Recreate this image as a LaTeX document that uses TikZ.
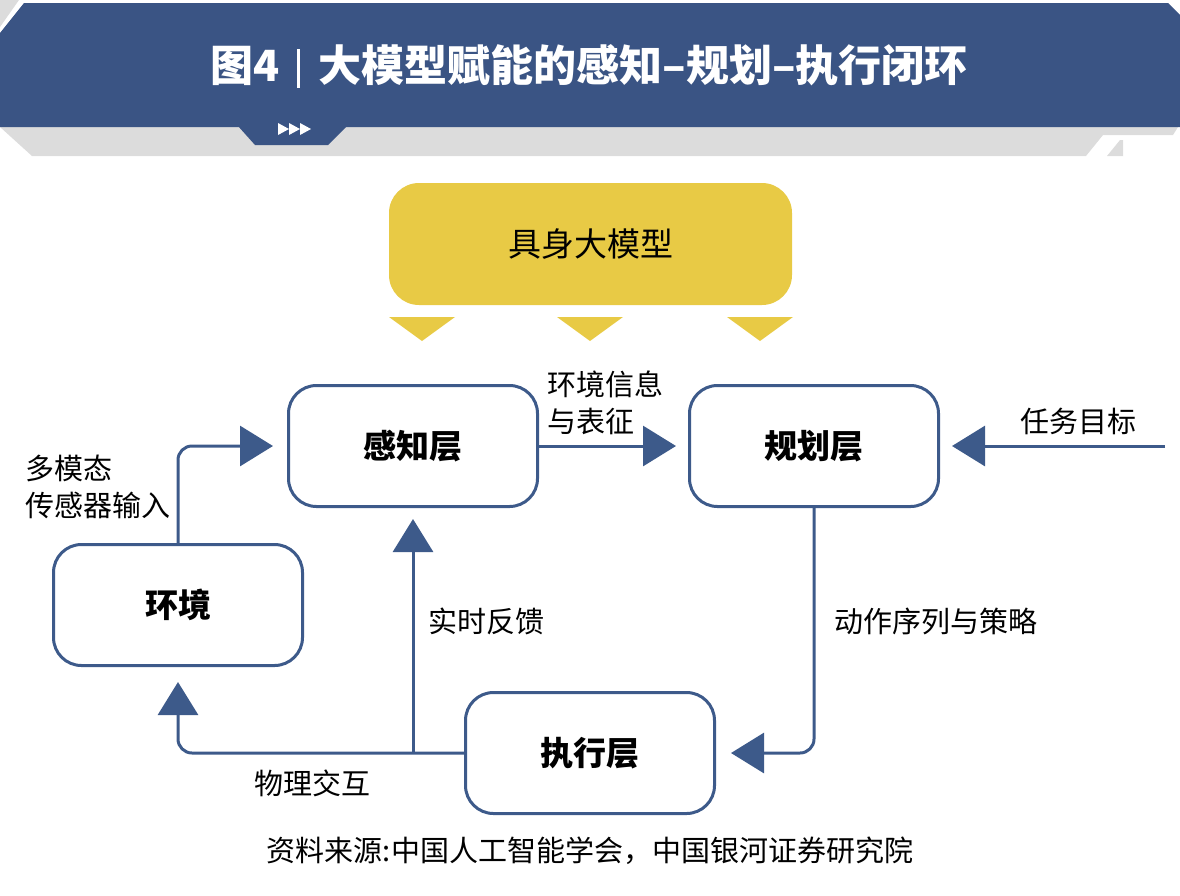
\documentclass[tikz,border=0pt]{standalone}
\usepackage{fontspec}
\setmainfont{Noto Sans CJK SC}
\usetikzlibrary{arrows.meta}
\definecolor{hdrblue}{HTML}{3A5484}
\definecolor{lnblue}{HTML}{3D5A8A}
\definecolor{ylw}{HTML}{E8CA45}
\definecolor{hdrgray}{HTML}{DCDCDC}
\tikzset{
  layer/.style={draw=lnblue, line width=3pt, rounded corners=28pt, fill=white,
    minimum width=249pt, minimum height=121pt, inner sep=0pt,
    font=\fontsize{33}{38}\selectfont\bfseries},
  conn/.style={draw=lnblue, line width=3pt, rounded corners=14pt,
    -{Triangle[length=33pt,width=40pt]}},
  lbl/.style={inner sep=0pt, anchor=west, align=left,
    font=\fontsize{29}{37}\selectfont},
}
\begin{document}
\begin{tikzpicture}[x=1pt,y=-1pt]
\useasboundingbox (0,0) rectangle (1180,895);
% header
\fill[hdrgray] (0,0) -- (19,0) -- (0,27) -- cycle;
\fill[hdrgray] (0,127) -- (1178,127) -- (1173,135) -- (1103,135) -- (1086,156) -- (32,156) -- cycle;
\fill[hdrgray] (1107,156) -- (1123,156) -- (1123,140) -- (1120,140) -- cycle;
\fill[hdrblue] (24,3) -- (1168,3) -- (1180,15) -- (1180,127) -- (0,127) -- (0,33) -- cycle;
\fill[hdrblue] (238,126) -- (347,126) -- (328,145) -- (255,145) -- cycle;
\fill[white] (278,123) -- (289,129) -- (278,135) -- cycle;
\fill[white] (289,123) -- (300,129) -- (289,135) -- cycle;
\fill[white] (300,123) -- (311,129) -- (300,135) -- cycle;
\node[text=white, inner sep=0pt, font=\fontsize{43}{50}\selectfont\bfseries] (title) at (589,66)
  {图4\hspace{18pt}\rule[-6pt]{3pt}{39pt}\hspace{18pt}大模型赋能的感知–规划–执行闭环};
% model box
\node[fill=ylw, rounded corners=30pt, minimum width=403pt, minimum height=122pt, inner sep=0pt,
  font=\fontsize{33}{40}\selectfont] (model) at (590.5,244) {具身大模型};
\fill[ylw] (389,317) -- (455,317) -- (422,341) -- cycle;
\fill[ylw] (557,317) -- (623,317) -- (590,341) -- cycle;
\fill[ylw] (727,317) -- (793,317) -- (760,341) -- cycle;
% layers
\node[layer] (perc) at (413,446) {感知层};
\node[layer] (plan) at (814,446) {规划层};
\node[layer] (env) at (178,605) {环境};
\node[layer] (exec) at (590,753) {执行层};
\coordinate (goal) at (1165,446);
\coordinate (fb) at (perc.south |- exec.west);
% connectors
\draw[conn] (env.north) |- ([xshift=-14pt]perc.west);
\draw[conn, shorten >=12pt] (perc.east) -- (plan.west);
\draw[conn, shorten >=12pt] (goal) -- (plan.east);
\draw[conn] (plan.south) |- ([xshift=15pt]exec.east);
\draw[conn] (exec.west) -| ([yshift=-15pt]env.south);
\draw[conn, shorten >=11pt] (fb) -- (perc.south);
% labels
\node[lbl] (l1) at (25,487) {多模态\\传感器输入};
\node[lbl] (l2) at (547,403) {环境信息\\与表征};
\node[lbl] (l3) at (1020,421) {任务目标};
\node[lbl] (l4) at (428,621) {实时反馈};
\node[lbl] (l5) at (834,621) {动作序列与策略};
\node[lbl] (l6) at (254,783) {物理交互};
\node[inner sep=0pt, font=\fontsize{29}{36}\selectfont] (src) at (590,851) {资料来源:中国人工智能学会，中国银河证券研究院};
\end{tikzpicture}
\end{document}
